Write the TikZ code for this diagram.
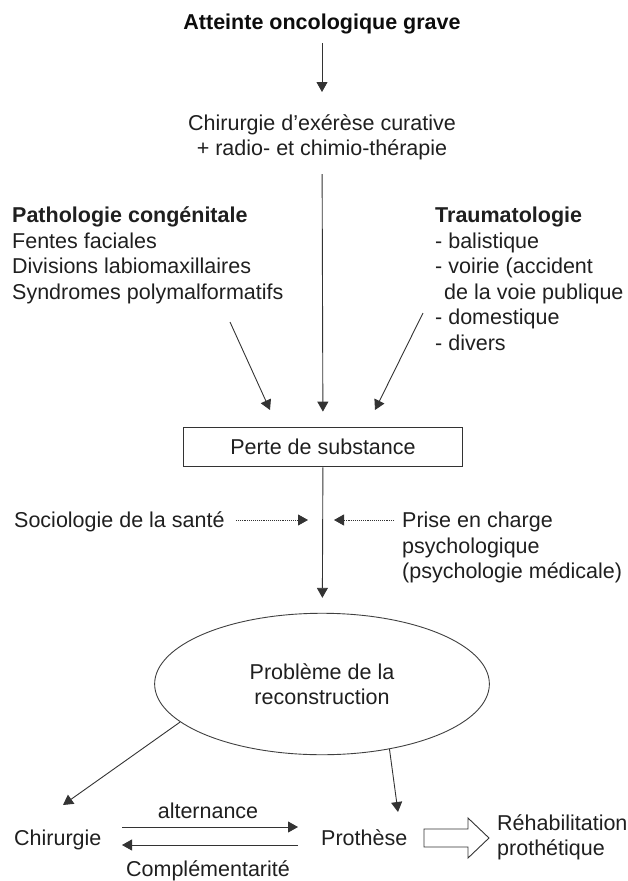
\documentclass[tikz,border=0pt]{standalone}
\usepackage{fontspec}
\setmainfont{Liberation Sans}[Ligatures=ResetAll]
\usetikzlibrary{arrows.meta,shapes.geometric}
\begin{document}
\begin{tikzpicture}[x=1bp,y=-1bp,
  txt/.style={inner sep=0, text=black!88, font=\fontsize{21.5bp}{25.5bp}\selectfont},
  boldtxt/.style={inner sep=0, text=black!95, font=\fontsize{21.5bp}{25.5bp}\selectfont\bfseries},
  ar/.style={-{Triangle[length=10bp,width=11bp]}, line width=0.9bp, draw=black!80},
  dotar/.style={ar, densely dotted},
]
\useasboundingbox (0,0) rectangle (628,881);

% texts
\node[boldtxt, anchor=base] (t) at (322,29.5) {Atteinte oncologique grave};
\node[txt, anchor=north, align=center] (c) at (322,114) {Chirurgie d'exérèse curative\\+ radio- et chimio-thérapie};
\node[txt, anchor=north west, align=left] (pc) at (12,207) {\textbf{Pathologie congénitale}\\Fentes faciales\\Divisions labiomaxillaires\\Syndromes polymalformatifs};
\node[txt, anchor=north west, align=left] (tr) at (435,207) {\textbf{Traumatologie}\\- balistique\\- voirie (accident\\\hspace*{9bp}de la voie publique\\- domestique\\- divers};
\node[txt, draw=black!80, line width=0.9bp, minimum width=280, minimum height=40] (pds) at (323,447) {Perte de substance};
\node[txt, anchor=base west] (soc) at (14,527.5) {Sociologie de la santé};
\node[txt, anchor=north west, align=left] (pec) at (402,512) {Prise en charge\\psychologique\\(psychologie médicale)};
\node[txt, ellipse, draw=black!75, line width=0.9bp, minimum width=336, minimum height=142, align=center] (pr) at (322,684) {Problème de la\\reconstruction};
\node[txt, anchor=base west] (chi) at (14,845) {Chirurgie};
\node[txt, anchor=base] (alt) at (208,818) {alternance};
\node[txt, anchor=base] (comp) at (208,876) {Complémentarité};
\node[txt, anchor=base west] (pro) at (321,845) {Prothèse};
\node[txt, anchor=north west, align=left] (reh) at (497,814) {Réhabilitation\\prothétique};

% open block arrow
\draw[line width=0.9bp, draw=black!80, fill=white, shift={(424,838)}]
  (0,-9) -- (44,-9) -- (44,-20) -- (65,0) -- (44,20) -- (44,9) -- (0,9) -- cycle;

% coordinates for connector ends
\coordinate (pcA) at (230,322);
\coordinate (pcB) at (270,410);
\coordinate (trA) at (423,313);
\coordinate (trB) at (375,410);
\coordinate (j1a) at (236,520);
\coordinate (j1) at (308,520);
\coordinate (j2a) at (394,520);
\coordinate (j2) at (334,520);
\coordinate (chiT) at (63,805);
\coordinate (proT) at (398,812);
\coordinate (altA) at (122,827);
\coordinate (altB) at (298,827);
\coordinate (cmpA) at (298,845);
\coordinate (cmpB) at (122,845);

% connectors
\draw[ar, shorten <=9bp, shorten >=22bp] (t) -- (c);
\draw[ar, shorten <=14bp, shorten >=15bp] (c) -- (pds);
\draw[ar] (pcA) -- (pcB);
\draw[ar] (trA) -- (trB);
\draw[ar, shorten >=15bp] (pds) -- (pr);
\draw[dotar] (j1a) -- (j1);
\draw[dotar] (j2a) -- (j2);
\draw[ar] (pr.195) -- (chiT);
\draw[ar] (pr.316) -- (proT);
\draw[ar] (altA) -- (altB);
\draw[ar] (cmpA) -- (cmpB);
\end{tikzpicture}
\end{document}
